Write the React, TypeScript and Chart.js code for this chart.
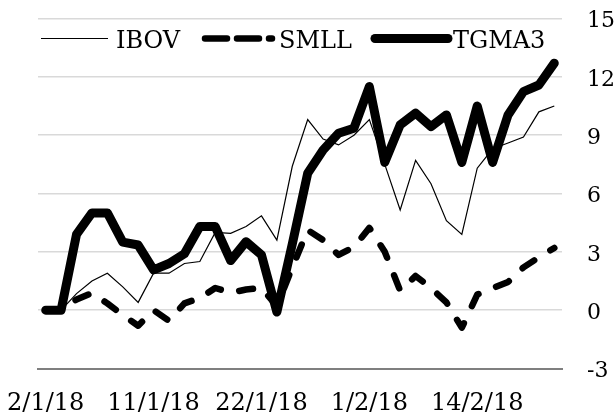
import React, { useEffect, useRef } from "react";
import { Chart, registerables } from "chart.js";

Chart.register(...registerables);

const dates = [
  "2/1/18", "3/1/18", "4/1/18", "5/1/18", "8/1/18", "9/1/18", "10/1/18",
  "11/1/18", "12/1/18", "15/1/18", "16/1/18", "17/1/18", "18/1/18", "19/1/18",
  "22/1/18", "23/1/18", "24/1/18", "26/1/18", "29/1/18", "30/1/18", "31/1/18",
  "1/2/18", "2/2/18", "5/2/18", "6/2/18", "7/2/18", "8/2/18", "9/2/18",
  "14/2/18", "15/2/18", "16/2/18", "19/2/18", "20/2/18", "21/2/18",
];
const tickEvery = 7;

const ibov = [
  0, 0, 0.85, 1.5, 1.9, 1.2, 0.4, 1.9, 1.9, 2.4, 2.5, 4.0, 3.95, 4.3, 4.85,
  3.6, 7.4, 9.8, 8.8, 8.5, 9.0, 9.8, 7.5, 5.15, 7.7, 6.5, 4.6, 3.9, 7.3, 8.3,
  8.6, 8.9, 10.2, 10.5,
];
const smll = [
  0, 0, 0.55, 0.88, 0.35, -0.25, -0.8, 0.0, -0.55, 0.35, 0.62, 1.14, 0.9, 1.06,
  1.14, 0.2, 2.2, 4.12, 3.6, 2.84, 3.25, 4.23, 3.0, 1.0, 1.76, 1.14, 0.4, -0.9,
  0.8, 1.13, 1.45, 2.2, 2.72, 3.2,
];
const tgma3 = [
  0, 0, 3.9, 5.0, 5.0, 3.5, 3.35, 2.07, 2.4, 2.9, 4.3, 4.3, 2.55, 3.52, 2.84,
  -0.1, 3.4, 7.04, 8.24, 9.1, 9.36, 11.5, 7.6, 9.53, 10.13, 9.44, 10.04, 7.6,
  10.5, 7.6, 10.04, 11.24, 11.58, 12.7,
];
const seriesNames = ["IBOV", "SMLL", "TGMA3"];
const yMin = -3;
const yMax = 15;
const yStep = 3;

const FONT_FAMILY = '"DejaVu Serif", serif';

const legendPlugin = {
  id: "customLegend",
  afterDraw(chart: any) {
    const ctx = chart.ctx as CanvasRenderingContext2D;
    const y = 38.5;
    const items = [
      { x: 41, len: 67, width: 1.2, dash: [] as number[], tx: 116, name: seriesNames[0] },
      { x: 205, len: 67, width: 6.5, dash: [22, 10], tx: 279, name: seriesNames[1] },
      { x: 375, len: 73, width: 9, dash: [] as number[], tx: 453, name: seriesNames[2] },
    ];
    ctx.save();
    ctx.strokeStyle = "#000";
    ctx.fillStyle = "#000";
    ctx.font = `24px ${FONT_FAMILY}`;
    ctx.textBaseline = "alphabetic";
    ctx.textAlign = "left";
    for (const it of items) {
      ctx.beginPath();
      ctx.lineWidth = it.width;
      ctx.setLineDash(it.dash);
      ctx.lineCap = it.width < 2 ? "butt" : "round";
      ctx.moveTo(it.x, y);
      ctx.lineTo(it.x + it.len, y);
      ctx.stroke();
      ctx.setLineDash([]);
      ctx.fillText(it.name, it.tx, 48);
    }
    ctx.restore();
  },
};

const zeroPadding = (s: any) => {
  s.paddingTop = 0;
  s.paddingBottom = 0;
  s.paddingLeft = 0;
  s.paddingRight = 0;
};

export default function App() {
  const ref = useRef<HTMLCanvasElement>(null);

  useEffect(() => {
    const canvas = ref.current;
    if (!canvas) return;
    const chart = new Chart(canvas, {
      type: "line",
      data: {
        labels: dates,
        datasets: [
          {
            label: seriesNames[0],
            data: ibov,
            borderColor: "#000",
            borderWidth: 1.2,
            pointRadius: 0,
            tension: 0,
            fill: false,
            order: 3,
          },
          {
            label: seriesNames[1],
            data: smll,
            borderColor: "#000",
            borderWidth: 6.5,
            borderDash: [14, 19],
            borderCapStyle: "round",
            borderJoinStyle: "round",
            pointRadius: 0,
            tension: 0,
            fill: false,
            order: 2,
          },
          {
            label: seriesNames[2],
            data: tgma3,
            borderColor: "#000",
            borderWidth: 9,
            borderCapStyle: "round",
            borderJoinStyle: "round",
            pointRadius: 0,
            tension: 0,
            fill: false,
            order: 1,
          },
        ],
      },
      options: {
        responsive: false,
        animation: false,
        devicePixelRatio: 1,
        layout: { padding: { left: 38, top: 18.5, right: 0, bottom: 0 } },
        plugins: {
          legend: { display: false },
          tooltip: { enabled: false },
        },
        scales: {
          x: {
            type: "category",
            offset: true,
            grid: { display: true, color: "rgba(0,0,0,0)", drawTicks: false },
            border: { display: true, color: "#7f7f7f", width: 2 },
            ticks: {
              autoSkip: false,
              maxRotation: 0,
              minRotation: 0,
              padding: 21,
              color: "#000",
              font: { family: FONT_FAMILY, size: 24 },
              callback: (_v: any, i: number) => (i % tickEvery === 0 ? dates[i] : ""),
            },
            afterFit: (s: any) => {
              s.height = 45.5;
              zeroPadding(s);
            },
          },
          y: {
            position: "right",
            min: yMin,
            max: yMax,
            grid: {
              color: (c: any) => (c.tick && c.tick.value === yMin ? "rgba(0,0,0,0)" : "#d9d9d9"),
              lineWidth: 1.5,
              drawTicks: false,
            },
            border: { display: false },
            ticks: {
              stepSize: yStep,
              padding: 25,
              labelOffset: 3,
              color: "#000",
              font: { family: FONT_FAMILY, size: 22 },
            },
            afterFit: (s: any) => {
              s.width = 54;
              zeroPadding(s);
            },
          },
        },
      },
      plugins: [legendPlugin],
    });
    return () => chart.destroy();
  }, []);

  return (
    <div style={{ position: "absolute", left: 0, top: 0, width: 616, height: 414, background: "#fff" }}>
      <canvas ref={ref} width={616} height={414} style={{ display: "block" }} />
    </div>
  );
}
